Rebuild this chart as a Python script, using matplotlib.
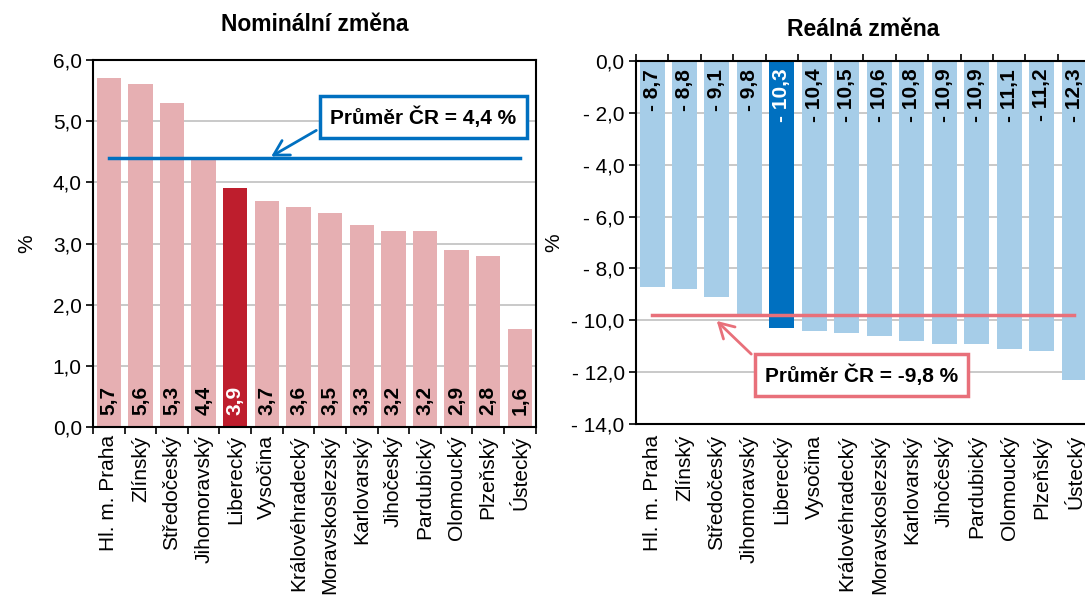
import numpy as np
import matplotlib.pyplot as plt

plt.rcParams['font.family'] = ['Liberation Sans', 'DejaVu Sans']

# data
regions_nom = ['Hl. m. Praha', 'Zlínský', 'Středočeský', 'Jihomoravský', 'Liberecký',
               'Vysočina', 'Královéhradecký', 'Moravskoslezský', 'Karlovarský',
               'Jihočeský', 'Pardubický', 'Olomoucký', 'Plzeňský', 'Ústecký']
nominal = [5.7, 5.6, 5.3, 4.4, 3.9, 3.7, 3.6, 3.5, 3.3, 3.2, 3.2, 2.9, 2.8, 1.6]
nominal_avg = 4.4

regions_real = ['Hl. m. Praha', 'Zlínský', 'Středočeský', 'Jihomoravský', 'Liberecký',
                'Vysočina', 'Královéhradecký', 'Moravskoslezský', 'Karlovarský',
                'Jihočeský', 'Pardubický', 'Olomoucký', 'Plzeňský', 'Ústecký']
real = [-8.7, -8.8, -9.1, -9.8, -10.3, -10.4, -10.5, -10.6, -10.8, -10.9, -10.9, -11.1, -11.2, -12.3]
real_avg = -9.8

highlight = 'Liberecký'

FS = 15


def fmt(v):
    s = f'{abs(v):.1f}'.replace('.', ',')
    return ('- ' + s) if v < 0 else s


fig = plt.figure(figsize=(10.85, 6), dpi=100)

# ---- left: nominal
ax1 = fig.add_axes([0.0857, 0.2883, 0.408, 0.6117])
x = np.arange(len(regions_nom))
cols = ['#BE1E2D' if r == highlight else '#E6AFB2' for r in regions_nom]
ax1.bar(x, nominal, width=0.77, color=cols, zorder=2)
ax1.set_xlim(-0.5, len(x) - 0.5)
ax1.set_ylim(0, 6)
ax1.set_yticks(np.arange(0, 6.1, 1))
ax1.set_yticklabels([fmt(v) for v in np.arange(0, 6.1, 1)], fontsize=FS)
ax1.yaxis.grid(True, color='#C0C0C0', lw=1.2, zorder=0)
ax1.set_xticks(x)
ax1.set_xticklabels(regions_nom, rotation=90, fontsize=FS)
ax1.tick_params(axis='x', length=0, pad=6)
ax1.set_xticks(np.arange(-0.5, len(x)), minor=True)
ax1.tick_params(axis='x', which='minor', length=5, width=1.2)
ax1.tick_params(axis='y', length=5, width=1.2, pad=3)
for s in ax1.spines.values():
    s.set_linewidth(1.5)
ax1.set_ylabel('%', fontsize=FS, labelpad=12)
ax1.set_title('Nominální změna', fontsize=16.5, fontweight='bold', pad=21)
for i, v in enumerate(nominal):
    c = 'white' if regions_nom[i] == highlight else 'black'
    ax1.text(i, 0.2, fmt(v), rotation=90, ha='center', va='bottom',
             fontsize=FS, fontweight='bold', color=c, zorder=3)
ax1.plot([0, len(x) - 1], [nominal_avg, nominal_avg], color='#0070C0', lw=2.5, zorder=4)
ax1.annotate('Průměr ČR = 4,4 %', xy=(5.06, nominal_avg), xytext=(9.95, 5.07),
             ha='center', va='center', fontsize=FS, fontweight='bold', zorder=5,
             bbox=dict(boxstyle='square,pad=0.5', fc='white', ec='#0070C0', lw=2.5),
             arrowprops=dict(arrowstyle='->,head_length=0.7,head_width=0.4',
                             color='#0070C0', lw=2, relpos=(0, 0.25)))

# ---- right: real
ax2 = fig.add_axes([0.586, 0.2933, 0.419, 0.605])
x = np.arange(len(regions_real))
cols = ['#0070C0' if r == highlight else '#A6CDE8' for r in regions_real]
ax2.bar(x, real, width=0.77, color=cols, zorder=2)
ax2.set_xlim(-0.5, len(x) - 0.5)
ax2.set_ylim(-14, 0)
yt = np.arange(-14, 0.1, 2)
ax2.set_yticks(yt)
ax2.set_yticklabels([fmt(v) if v != 0 else '0,0' for v in yt], fontsize=FS)
ax2.yaxis.grid(True, color='#C0C0C0', lw=1.2, zorder=0)
ax2.set_xticks(x)
ax2.set_xticklabels(regions_real, rotation=90, fontsize=FS)
ax2.tick_params(axis='x', length=0, pad=8)
ax2.set_xticks(np.arange(-0.5, len(x)), minor=True)
ax2.tick_params(axis='x', which='minor', bottom=False, top=True, length=5, width=1.2)
ax2.tick_params(axis='y', length=5, width=1.2, pad=3)
ax2.spines['right'].set_visible(False)
for s in ax2.spines.values():
    s.set_linewidth(1.5)
ax2.set_ylabel('%', fontsize=FS, labelpad=6)
ax2.set_title('Reálná změna', fontsize=16.5, fontweight='bold', pad=18)
for i, v in enumerate(real):
    c = 'white' if regions_real[i] == highlight else 'black'
    ax2.text(i, -0.3, fmt(v), rotation=90, ha='center', va='top',
             fontsize=FS, fontweight='bold', color=c, zorder=3)
ax2.plot([0, len(x) - 1], [real_avg, real_avg], color='#E8707A', lw=2.5, zorder=4)
ax2.annotate('Průměr ČR = -9,8 %', xy=(1.93, -9.95), xytext=(6.45, -12.1),
             ha='center', va='center', fontsize=FS, fontweight='bold', zorder=5,
             bbox=dict(boxstyle='square,pad=0.5', fc='white', ec='#E8707A', lw=2.5),
             arrowprops=dict(arrowstyle='->,head_length=0.7,head_width=0.4',
                             color='#E8707A', lw=2, relpos=(0, 0.85)))

plt.savefig('out.png', dpi=100)
